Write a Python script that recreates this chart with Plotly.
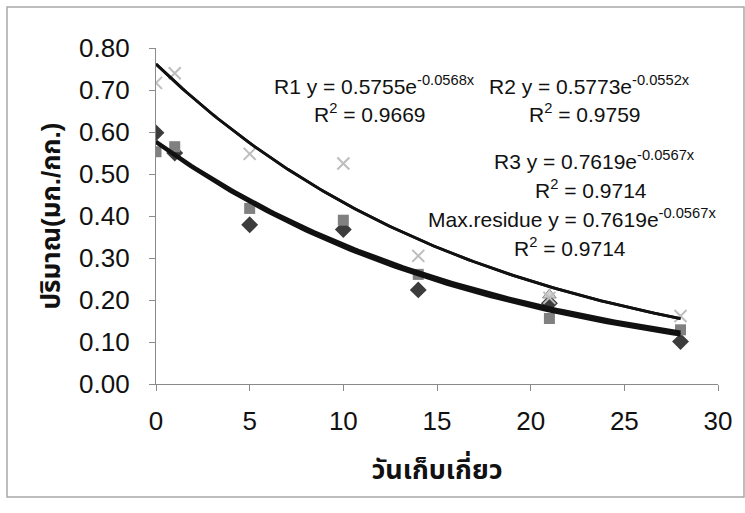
import numpy as np
import plotly.graph_objects as go

days = [0, 1, 5, 10, 14, 21, 28]
r1 = [0.598, 0.55, 0.379, 0.368, 0.224, 0.192, 0.101]
r2 = [0.553, 0.565, 0.418, 0.390, 0.261, 0.156, 0.129]
r3 = [None, None, None, None, None, 0.212, None]
max_res = [0.717, 0.740, 0.548, 0.525, 0.305, 0.205, 0.162]

# trendline equations y = a * exp(b x)
fit_names = ["R1", "R2", "R3", "Max.residue"]
fit_a = [0.5755, 0.5773, 0.7619, 0.7619]
fit_b = [-0.0568, -0.0552, -0.0567, -0.0567]
fit_r2 = ["0.9669", "0.9759", "0.9714", "0.9714"]
fit_width = [3.6, 3.6, 2.8, 2.8]

yticks = [0.0, 0.1, 0.2, 0.3, 0.4, 0.5, 0.6, 0.7, 0.8]
xticks = [0, 5, 10, 15, 20, 25, 30]

FONT = "Liberation Sans, Arial, Noto Sans Thai, Loma, Garuda, sans-serif"

fig = go.Figure()
fig.add_trace(go.Scatter(x=days, y=r1, mode="markers", name="R1",
                         marker=dict(symbol="diamond", size=13, color="#3c3c3c")))
fig.add_trace(go.Scatter(x=days, y=r2, mode="markers", name="R2",
                         marker=dict(symbol="square", size=11, color="#808080")))
fig.add_trace(go.Scatter(x=days, y=r3, mode="markers", name="R3",
                         marker=dict(symbol="triangle-up", size=12, color="#d0d0d0",
                                     line=dict(color="#909090", width=1))))
fig.add_trace(go.Scatter(x=days, y=max_res, mode="markers", name="Max.residue",
                         marker=dict(symbol="x-thin-open", size=12, color="#bdbdbd",
                                     line=dict(color="#bdbdbd", width=2))))

xs = np.linspace(min(days), max(days), 120)
for a, b, n, w in zip(fit_a, fit_b, fit_names, fit_width):
    fig.add_trace(go.Scatter(x=xs, y=a * np.exp(b * xs), mode="lines", name=n + " fit",
                             line=dict(color="#111111", width=w)))

def eq(n, a, b):
    return f"{n} y = {a:.4f}e<sup>{b:.4f}x</sup>"

ann = [
    (eq(fit_names[0], fit_a[0], fit_b[0]), 272, 85, "left"),
    (f"R<sup>2</sup> = {fit_r2[0]}", 370, 113, "center"),
    (eq(fit_names[1], fit_a[1], fit_b[1]), 487, 85, "left"),
    (f"R<sup>2</sup> = {fit_r2[1]}", 585, 113, "center"),
    (eq(fit_names[2], fit_a[2], fit_b[2]), 492, 160, "left"),
    (f"R<sup>2</sup> = {fit_r2[2]}", 591, 189, "center"),
    (eq(fit_names[3], fit_a[3], fit_b[3]), 426, 218, "left"),
    (f"R<sup>2</sup> = {fit_r2[3]}", 570, 247, "center"),
]
L, R, T, B = 156, 27, 48, 129
PW, PH = 745 - L - R, 513 - T - B
for text, px, py, anchor in ann:
    fig.add_annotation(text=text, x=(px - L) / PW, y=(T + PH - py) / PH,
                       xref="paper", yref="paper", xanchor=anchor, yanchor="middle",
                       showarrow=False, font=dict(family=FONT, size=21, color="#111111"))

# outer chart border
fig.add_shape(type="rect", xref="paper", yref="paper",
              x0=(7 - L) / PW, x1=(744 - L) / PW,
              y0=(T + PH - 497) / PH, y1=(T + PH - 7) / PH,
              line=dict(color="#a8a8a8", width=1.5))

fig.update_layout(
    width=745, height=513,
    margin=dict(l=L, r=R, t=T, b=B),
    paper_bgcolor="white", plot_bgcolor="white",
    showlegend=False,
    font=dict(family=FONT, color="#111111"),
    xaxis=dict(range=[0, 30], tickvals=xticks, showgrid=False, zeroline=False,
               showline=True, linecolor="#8a8a8a", linewidth=1.2, automargin=False,
               ticks="outside", ticklen=6, tickcolor="#8a8a8a",
               tickfont=dict(size=26, family=FONT), ticklabelstandoff=8,
               title=dict(text="<b>วันเก็บเกี่ยว</b>", font=dict(size=27, family=FONT),
                          standoff=24)),
    yaxis=dict(range=[0, 0.8], tickvals=yticks, tickformat=".2f", showgrid=False,
               zeroline=False, showline=True, linecolor="#8a8a8a", linewidth=1.2,
               automargin=False,
               ticks="outside", ticklen=6, tickcolor="#8a8a8a",
               tickfont=dict(size=26, family=FONT), ticklabelstandoff=14,
               title=dict(text="<b>ปริมาณ(มก./กก.)</b>", font=dict(size=26, family=FONT),
                          standoff=10)),
)

fig.write_html("out.html", config={"displayModeBar": False},
               post_script="document.body.style.margin='0';document.body.style.padding='0';")
